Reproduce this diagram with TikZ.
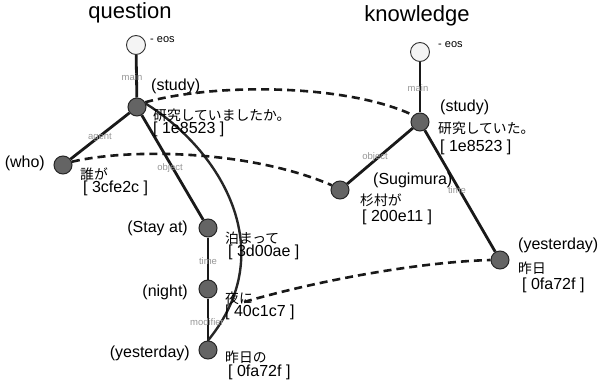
\documentclass[tikz,border=0pt]{standalone}
\usepackage{fontspec}
\setmainfont{Liberation Sans}
\newfontfamily\jpfont{Noto Sans CJK JP}
\definecolor{nodegray}{RGB}{100,100,100}
\definecolor{eosfill}{RGB}{244,244,244}
\definecolor{relgray}{RGB}{150,150,150}

\begin{document}
\begin{tikzpicture}[x=1pt,y=-1pt,
  wordnode/.style={circle,draw=black!85,line width=1pt,fill=nodegray,minimum size=18pt,inner sep=0pt},
  eosnode/.style={circle,draw=black!80,line width=0.9pt,fill=eosfill,minimum size=19pt,inner sep=0pt},
  title/.style={font=\fontsize{22}{26}\selectfont,inner sep=0pt},
  tag/.style={font=\fontsize{16}{19}\selectfont,inner sep=0pt},
  jptext/.style={font=\jpfont\fontsize{13.8}{16}\selectfont,inner sep=0pt,anchor=west},
  idtext/.style={font=\fontsize{16}{19}\selectfont,inner sep=0pt,anchor=west},
  rel/.style={font=\fontsize{9.5}{11}\selectfont,text=relgray,inner sep=0pt},
  eostag/.style={font=\fontsize{11}{13}\selectfont,inner sep=0pt,anchor=west},
  dep/.style={line width=2.8pt,black!90},
  link/.style={line width=2.6pt,dash pattern=on 8pt off 5pt,black!90}]
\useasboundingbox (0,0) rectangle (599,382);
% titles
\node[title] (qtitle) at (130,13) {question};
\node[title] (ktitle) at (417,16) {knowledge};
% question tree
\node[eosnode] (qeos) at (136,45) {};
\node[wordnode] (qstudy) at (137,107) {};
\node[wordnode] (qwho) at (63,165) {};
\node[wordnode] (qstay) at (208,228) {};
\node[wordnode] (qnight) at (208,289) {};
\node[wordnode] (qyest) at (208,350) {};
\draw[dep] (qeos) -- (qstudy);
\draw[dep] (qstudy) -- (qwho);
\draw[dep] (qstudy) -- (qstay);
\draw[dep] (qstay) -- (qnight);
\draw[dep] (qnight) -- (qyest);
\draw[line width=2.4pt,black!85] (qstudy.20) .. controls (220,150) and (282,250) .. (qyest.north);
\node[rel] (qrmain) at (132,77) {main};
\node[rel] (qragent) at (100,137) {agent};
\node[rel] (qrobject) at (170,168) {object};
\node[rel] (qrtime) at (208,261) {time};
\node[rel] (qrmod) at (207,322) {modifier};
\node[eostag] (qeostag) at (150,40) {- eos};
\node[tag,anchor=west] (qstudytag) at (151,86) {(study)};
\node[jptext] (qstudyjp) at (153,115) {研究していましたか。};
\node[idtext] (qstudyid) at (153,129) {[ 1e8523 ]};
\node[tag,anchor=east] (qwhotag) at (45,163) {(who)};
\node[jptext] (qwhojp) at (80,174) {誰が};
\node[idtext] (qwhoid) at (83,188) {[ 3cfe2c ]};
\node[tag,anchor=east] (qstaytag) at (188,228) {(Stay at)};
\node[jptext] (qstayjp) at (225,238) {泊まって};
\node[idtext] (qstayid) at (228,252) {[ 3d00ae ]};
\node[tag,anchor=east] (qnighttag) at (188,292) {(night)};
\node[jptext] (qnightjp) at (225,298) {夜に};
\node[idtext] (qnightid) at (225,312) {[ 40c1c7 ]};
\node[tag,anchor=east] (qyesttag) at (190,353) {(yesterday)};
\node[jptext] (qyestjp) at (225,357) {昨日の};
\node[idtext] (qyestid) at (228,372) {[ 0fa72f ]};
% knowledge tree
\node[eosnode] (keos) at (420,52) {};
\node[wordnode] (kstudy) at (420,122) {};
\node[wordnode] (ksugi) at (340,190) {};
\node[wordnode] (kyest) at (500,260) {};
\draw[dep] (keos) -- (kstudy);
\draw[dep] (kstudy) -- (ksugi);
\draw[dep] (kstudy) -- (kyest);
\node[rel] (krmain) at (418,88) {main};
\node[rel] (krobject) at (375,157) {object};
\node[rel] (krtime) at (457,190) {time};
\node[eostag] (keostag) at (438,45) {- eos};
\node[tag,anchor=west] (kstudytag) at (440,107) {(study)};
\node[jptext] (kstudyjp) at (438,128) {研究していた。};
\node[idtext] (kstudyid) at (440,147) {[ 1e8523 ]};
\node[tag,anchor=west] (ksugitag) at (373,180) {(Sugimura)};
\node[jptext] (ksugijp) at (360,200) {杉村が};
\node[idtext] (ksugiid) at (362,217) {[ 200e11 ]};
\node[tag,anchor=west] (kyesttag) at (518,245) {(yesterday)};
\node[jptext] (kyestjp) at (518,268) {昨日};
\node[idtext] (kyestid) at (522,285) {[ 0fa72f ]};
% matching links
\coordinate (nightlink) at ([shift={(36,13)}]qnight.center);
\draw[link] (qstudy.30) .. controls (220,82) and (350,85) .. (kstudy.135);
\draw[link] (qwho.20) .. controls (130,148) and (250,150) .. (ksugi.150);
\draw[link] (nightlink) .. controls (320,280) and (420,262) .. (kyest.west);
\end{tikzpicture}
\end{document}
